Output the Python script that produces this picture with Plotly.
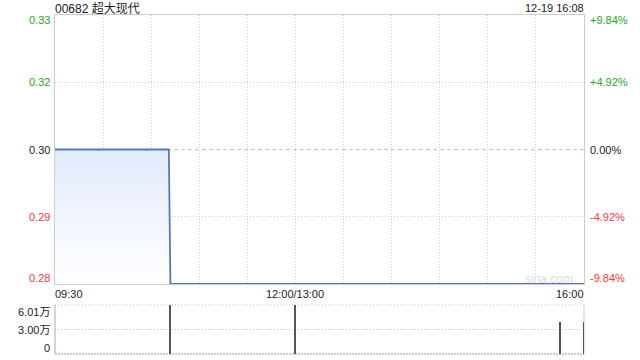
import plotly.graph_objects as go

# ---------------- data ----------------
title_text = "00682 超大现代"
stamp_text = "12-19 16:08"

price_times = ["09:30", "10:41", "10:42", "16:00"]
price_values = [0.305, 0.305, 0.275, 0.275]

vol_times = ["10:42", "12:00", "15:45", "16:00"]
vol_values = [60100, 59800, 39500, 39500]

price_range = [0.275, 0.335]
prev_close = 0.305
price_tick_vals = [0.335, 0.32, 0.305, 0.29, 0.275]
price_tick_labels = ["0.33", "0.32", "0.30", "0.29", "0.28"]
pct_tick_labels = ["+9.84%", "+4.92%", "0.00%", "-4.92%", "-9.84%"]

vol_max = 60100
vol_tick_vals = [60100, 30050, 0]
vol_tick_labels = ["6.01万", "3.00万", "0"]

time_labels = ["09:30", "12:00/13:00", "16:00"]

# ---------------- helpers ----------------
def tmin(t):
    h, m = map(int, t.split(":"))
    mins = h * 60 + m
    if mins <= 12 * 60:
        return mins - (9 * 60 + 30)
    return 150 + mins - 13 * 60

W, H = 640, 360
ML, MR, MT, MB = 55, 56, 15, 6
PH = H - MT - MB

def py(p):
    return (H - MB - p) / PH

GREEN = "#22a822"
RED = "#f23a3a"
BLACK = "#222222"
FONT = "Liberation Sans, Arial, Noto Sans CJK SC, sans-serif"
LINE = "#5577bb"
DOT = "1px,2px"

px_ = [tmin(t) for t in price_times]
vx = [tmin(t) for t in vol_times]

fig = go.Figure()

fig.add_trace(go.Scatter(
    x=px_, y=price_values, mode="lines",
    line=dict(color=LINE, width=1.8),
    fill="tozeroy",
    fillgradient=dict(type="vertical", start=price_range[0], stop=prev_close,
                      colorscale=[[0, "rgba(255,255,255,1)"], [1, "#e2ebfb"]]),
    xaxis="x", yaxis="y", hoverinfo="skip", showlegend=False,
))

fig.add_trace(go.Bar(
    x=vx, y=vol_values, width=0.6, cliponaxis=False,
    marker=dict(color="#555555", line=dict(width=0)),
    xaxis="x2", yaxis="y2", hoverinfo="skip", showlegend=False,
))

grid_x = list(range(30, 330, 30))

fig.update_layout(
    width=W, height=H,
    margin=dict(l=ML, r=MR, t=MT, b=MB),
    paper_bgcolor="white", plot_bgcolor="white",
    font=dict(family=FONT, size=11, color=BLACK),
    bargap=0,
    xaxis=dict(domain=[0, 1], range=[0, 330], tickvals=grid_x, showticklabels=False,
               ticks="", showgrid=True, gridcolor="#cfcfcf", griddash=DOT, gridwidth=1,
               showline=True, mirror=True, linecolor="#cccccc", linewidth=1,
               zeroline=False, anchor="y", fixedrange=True),
    yaxis=dict(domain=[py(284), 1], range=price_range, tickvals=[0.32, 0.29],
               showticklabels=False, ticks="", showgrid=True, gridcolor="#cfcfcf",
               griddash=DOT, showline=True, mirror=True, linecolor="#cccccc",
               linewidth=1, zeroline=False, fixedrange=True),
    xaxis2=dict(domain=[0, 1], range=[0, 330], showticklabels=False, ticks="",
                showgrid=False, showline=False, zeroline=False, anchor="y2",
                fixedrange=True),
    yaxis2=dict(domain=[0, py(305)], range=[0, vol_max], tickvals=[vol_max / 2],
                showticklabels=False, ticks="", showgrid=True, gridcolor="#c4c4c4",
                griddash=DOT, showline=False, zeroline=False, fixedrange=True),
)

shapes = [
    # prev close dashed line
    dict(type="line", xref="x", yref="y", x0=0, x1=330, y0=prev_close, y1=prev_close,
         layer="below", line=dict(color="#c4c4c4", width=1, dash="4px,3px")),
    # volume panel borders
    dict(type="line", xref="x2 domain", yref="y2 domain", x0=0, x1=1, y0=1, y1=1,
         layer="below", line=dict(color="#c4c4c4", width=1, dash=DOT)),
    dict(type="line", xref="x2 domain", yref="y2 domain", x0=0, x1=1, y0=0, y1=0,
         layer="below", line=dict(color="#999999", width=1, dash="2px,1px")),
    dict(type="line", xref="x2 domain", yref="y2 domain", x0=0, x1=0, y0=0, y1=1,
         layer="below", line=dict(color="#aaaaaa", width=1)),
    dict(type="line", xref="x2 domain", yref="y2 domain", x0=1, x1=1, y0=0, y1=1,
         layer="below", line=dict(color="#cccccc", width=1)),
]
fig.update_layout(shapes=shapes)

ann = []

def color_for(i):
    if i < 2:
        return GREEN
    if i == 2:
        return BLACK
    return RED

for i, (v, lab, pl) in enumerate(zip(price_tick_vals, price_tick_labels, pct_tick_labels)):
    shift = 0
    if i == 0:
        shift = -5
    elif i == len(price_tick_vals) - 1:
        shift = 6
    c = color_for(i)
    ann.append(dict(x=0, xref="paper", y=v, yref="y", text=lab, showarrow=False,
                    xanchor="right", yanchor="middle", xshift=-3, yshift=shift,
                    font=dict(color=c, size=11)))
    ann.append(dict(x=1, xref="paper", y=v, yref="y", text=pl, showarrow=False,
                    xanchor="left", yanchor="middle", xshift=4, yshift=shift,
                    font=dict(color=c, size=11)))

for i, (v, lab) in enumerate(zip(vol_tick_vals, vol_tick_labels)):
    shift = 0
    if i == 0:
        shift = -7
    elif i == len(vol_tick_vals) - 1:
        shift = 6
    ann.append(dict(x=0, xref="paper", y=v, yref="y2", text=lab, showarrow=False,
                    xanchor="right", yanchor="middle", xshift=-3, yshift=shift,
                    font=dict(color=BLACK, size=11)))

tx = [0, 150, 330]
anchors = ["left", "center", "right"]
for x, lab, a in zip(tx, time_labels, anchors):
    ann.append(dict(x=x, xref="x", y=py(294), yref="paper", text=lab, showarrow=False,
                    xanchor=a, yanchor="middle", xshift=(-2 if a == "left" else (2 if a == "right" else 0)),
                    font=dict(color=BLACK, size=11)))

ann.append(dict(x=0, xref="paper", y=py(8), yref="paper", text=title_text, showarrow=False,
                xanchor="left", yanchor="middle", xshift=-2, font=dict(color=BLACK, size=12)))
ann.append(dict(x=1, xref="paper", y=py(8), yref="paper", text=stamp_text, showarrow=False,
                xanchor="right", yanchor="middle", xshift=2, font=dict(color=BLACK, size=11)))
ann.append(dict(x=330, xref="x", y=py(279), yref="paper", text="sina.com", showarrow=False,
                xanchor="right", yanchor="middle", xshift=-9, font=dict(color="#dddddd", size=12)))

fig.update_layout(annotations=ann)

fig.write_html("out.html")
